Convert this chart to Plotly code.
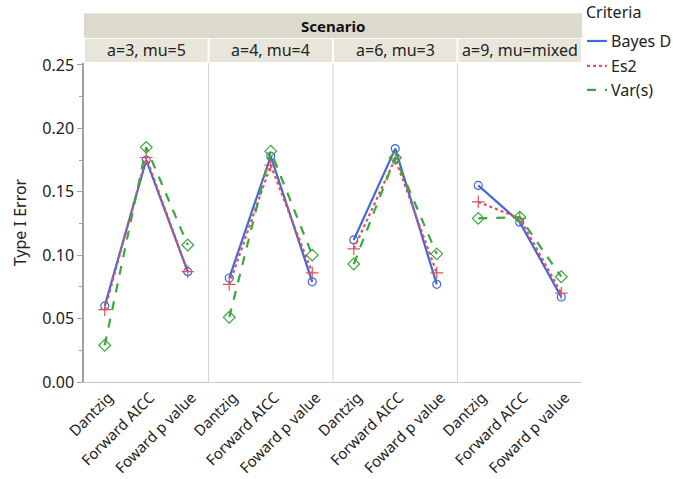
import plotly.graph_objects as go
from plotly.subplots import make_subplots

scenarios = ["a=3, mu=5", "a=4, mu=4", "a=6, mu=3", "a=9, mu=mixed"]
methods = ["Dantzig", "Forward AICC", "Foward p value"]
criteria = ["Bayes D", "Es2", "Var(s)"]

bayes_d = [[0.060, 0.175, 0.087], [0.082, 0.178, 0.079], [0.112, 0.184, 0.077], [0.155, 0.126, 0.067]]
es2     = [[0.057, 0.177, 0.087], [0.077, 0.171, 0.086], [0.105, 0.176, 0.086], [0.142, 0.129, 0.070]]
var_s   = [[0.029, 0.185, 0.108], [0.051, 0.182, 0.100], [0.093, 0.177, 0.101], [0.129, 0.130, 0.083]]

series = {"Bayes D": bayes_d, "Es2": es2, "Var(s)": var_s}
styles = {
    "Bayes D": dict(color="#4169d8", dash="solid", symbol="circle-open", msize=8),
    "Es2": dict(color="#e0505e", dash="dot", symbol="cross-thin-open", msize=9),
    "Var(s)": dict(color="#3aa83a", dash="dash", symbol="diamond-open", msize=9),
}

FONT = "Noto Sans"
FS = 16
fig = make_subplots(rows=1, cols=4, shared_yaxes=True, horizontal_spacing=0)

for name in criteria:
    st = styles[name]
    for i, sc in enumerate(scenarios):
        fig.add_trace(go.Scatter(
            x=methods, y=series[name][i], mode="lines+markers",
            line=dict(color=st["color"], dash=st["dash"], width=2.2),
            marker=dict(symbol=st["symbol"], size=st["msize"], color=st["color"],
                        line=dict(width=1.2, color=st["color"])),
            showlegend=False, name=name), row=1, col=i + 1)

for i in range(4):
    fig.update_xaxes(type="category", categoryorder="array", categoryarray=methods,
                     range=[-0.5, 2.5], tickangle=-45, showgrid=False, zeroline=False,
                     showline=True, linecolor="#c8c8c8", linewidth=1, automargin=False,
                     ticklabelshift=4,
                     tickfont=dict(family=FONT, size=15, color="#222"),
                     row=1, col=i + 1)

fig.update_yaxes(range=[0, 0.2515], dtick=0.05, tickformat=".2f", showgrid=False,
                 zeroline=False, ticks="outside", ticklen=5, tickcolor="#a0a0a0",
                 minor=dict(ticks="outside", ticklen=3, dtick=0.025, tickcolor="#a0a0a0"),
                 tickfont=dict(family=FONT, size=FS, color="#222"), automargin=False,
                 row=1, col=1)
fig.update_yaxes(showline=True, linecolor="#a0a0a0", linewidth=1.5, row=1, col=1)
fig.update_yaxes(title=dict(text="Type I Error", font=dict(family=FONT, size=FS, color="#222"),
                            standoff=12), row=1, col=1)
for i in range(1, 4):
    fig.update_yaxes(showline=False, ticks="", minor=dict(ticks=""), automargin=False,
                     row=1, col=i + 1)

shapes = []
for k in range(1, 4):
    shapes.append(dict(type="line", xref="paper", yref="paper", x0=k / 4, x1=k / 4,
                       y0=0, y1=1, line=dict(color="#d4d4d4", width=1)))
shapes.append(dict(type="rect", xref="paper", yref="paper", x0=0, x1=1, y0=1.078, y1=1.156,
                   fillcolor="#dcdaca", line=dict(width=0), layer="below"))
for k in range(4):
    shapes.append(dict(type="rect", xref="paper", yref="paper", x0=k / 4 + 0.002, x1=(k + 1) / 4 - 0.002,
                       y0=1.003, y1=1.076, fillcolor="#e8e6da", line=dict(width=0), layer="below"))

annotations = [dict(text="<b>Scenario</b>", xref="paper", yref="paper", x=0.5, y=1.117,
                    showarrow=False, font=dict(family=FONT, size=15, color="#111"),
                    xanchor="center", yanchor="middle")]
for k, sc in enumerate(scenarios):
    annotations.append(dict(text=sc, xref="paper", yref="paper", x=k / 4 + 0.125, y=1.04,
                            showarrow=False, font=dict(family=FONT, size=FS, color="#222"),
                            xanchor="center", yanchor="middle"))

annotations.append(dict(text="Criteria", xref="paper", yref="paper", x=1.004, y=1.160,
                        showarrow=False, xanchor="left", yanchor="middle",
                        font=dict(family=FONT, size=FS, color="#222")))
leg_y = [1.069, 0.991, 0.916]
for name, yy in zip(criteria, leg_y):
    st = styles[name]
    shapes.append(dict(type="line", xref="paper", yref="paper", x0=1.010, x1=1.050,
                       y0=yy, y1=yy, line=dict(color=st["color"], dash=st["dash"], width=2.2)))
    annotations.append(dict(text=name, xref="paper", yref="paper", x=1.054, y=yy,
                            showarrow=False, xanchor="left", yanchor="middle",
                            font=dict(family=FONT, size=FS, color="#222")))

fig.update_layout(
    width=673, height=479,
    margin=dict(l=84, r=91, t=63, b=97, autoexpand=False),
    paper_bgcolor="white", plot_bgcolor="white",
    shapes=shapes, annotations=annotations,
    showlegend=False,
    font=dict(family=FONT),
)

fig.write_html("out.html", config={"displayModeBar": False},
               post_script="document.body.style.margin='0';document.body.style.overflow='hidden';")
